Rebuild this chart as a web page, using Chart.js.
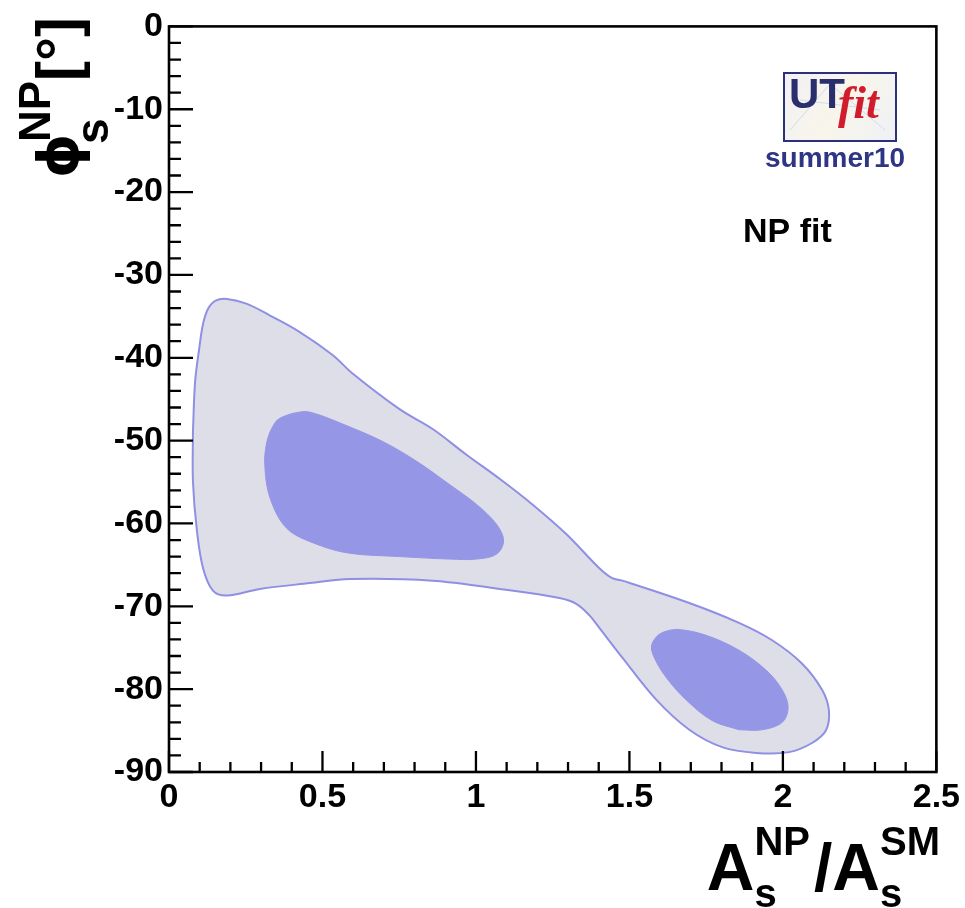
<!DOCTYPE html>
<html>
<head>
<meta charset="utf-8">
<style>
  html, body { margin: 0; padding: 0; background: #fff; }
  canvas { display: block; }
</style>
<script src="https://cdn.jsdelivr.net/npm/chart.js"></script>
</head>
<body>
<canvas id="c" width="965" height="908" style="width:965px;height:908px"></canvas>
<script>
// axis tick labels
const xTickLabels = ['0', '0.5', '1', '1.5', '2', '2.5'];
const yTickLabels = ['-90', '-80', '-70', '-60', '-50', '-40', '-30', '-20', '-10', '0'];

// outer (95%) contour, A_s ratio vs phi_s in degrees (starts on the straight left edge)
const outerX = [0.078, 0.085, 0.098, 0.111, 0.127, 0.152, 0.189, 0.254, 0.329, 0.426, 0.534, 0.598,
                0.751, 0.859, 0.969, 1.077, 1.184, 1.295, 1.402, 1.444, 1.477, 1.695, 1.857, 1.965,
                2.062, 2.128, 2.150, 2.140, 2.095, 2.020, 1.913, 1.802, 1.695, 1.588, 1.477, 1.402,
                1.370, 1.327, 1.272, 1.077, 0.859, 0.589, 0.459, 0.296, 0.189, 0.143, 0.111, 0.091,
                0.078];
const outerY = [-48.9, -42.9, -39.0, -35.9, -34.1, -33.1, -32.9, -33.5, -34.9, -36.9, -39.7, -41.9,
                -46.2, -48.6, -51.7, -54.6, -57.7, -61.3, -65.4, -66.6, -66.9, -69.6, -72.0, -74.1,
                -76.9, -80.1, -82.6, -85.0, -86.5, -87.6, -87.7, -87.0, -84.9, -81.3, -76.2, -72.6,
                -71.1, -69.7, -69.0, -67.9, -66.9, -66.7, -67.2, -67.9, -68.7, -68.1, -65.4, -60.9,
                -54.9];

// inner (68%) contours
const innerAX = [0.751, 0.589, 0.481, 0.384, 0.329, 0.312, 0.318, 0.335, 0.361, 0.436, 0.481, 0.566,
                 0.696, 0.807, 0.914, 1.002, 1.067, 1.090, 1.067, 1.002, 0.914];
const innerAY = [-64.0, -63.6, -62.5, -60.6, -56.9, -52.9, -50.3, -48.5, -47.3, -46.5, -46.8, -48.0,
                 -50.1, -52.5, -55.3, -57.7, -60.1, -62.1, -63.7, -64.3, -64.3];

const innerBX = [1.857, 1.770, 1.685, 1.620, 1.581, 1.572, 1.590, 1.620, 1.662, 1.750, 1.857, 1.945,
                 1.998, 2.017, 1.998, 1.932];
const innerBY = [-84.9, -83.8, -81.3, -78.6, -76.2, -74.8, -73.6, -73.0, -72.8, -73.5, -75.3, -77.7,
                 -80.1, -82.2, -84.0, -84.9];

function loop(xs, ys) {
    const pts = xs.map((x, i) => ({ x: x, y: ys[i] }));
    pts.push({ x: xs[0], y: ys[0] });
    return pts;
}

const FONT = '"Liberation Sans", Arial, Helvetica, sans-serif';

// frame, inward ticks, titles, logo
const decor = {
    id: 'decor',
    afterDraw(chart) {
        const ctx = chart.ctx;
        const a = chart.chartArea;
        const xs = chart.scales.x, ys = chart.scales.y;
        ctx.save();
        ctx.strokeStyle = '#000';
        ctx.lineWidth = 2.3;
        ctx.beginPath();
        for (let i = 0; i <= 25; i++) {
            const px = xs.getPixelForValue(i / 10);
            const len = i % 5 === 0 ? 21 : 10;
            ctx.moveTo(px, a.bottom);
            ctx.lineTo(px, a.bottom - len);
        }
        for (let v = -90; v <= 0; v += 2) {
            const py = ys.getPixelForValue(v);
            const len = v % 10 === 0 ? 24 : 12;
            ctx.moveTo(a.left, py);
            ctx.lineTo(a.left + len, py);
        }
        ctx.stroke();
        ctx.lineWidth = 2.6;
        ctx.strokeRect(a.left, a.top, a.right - a.left, a.bottom - a.top);

        // x title: A_s^NP / A_s^SM, right aligned
        ctx.fillStyle = '#000';
        ctx.textBaseline = 'alphabetic';
        ctx.textAlign = 'left';
        const big = 'bold 66px ' + FONT, small = 'bold 40px ' + FONT;
        ctx.font = big;
        const wA = ctx.measureText('A').width, wSl = ctx.measureText('/').width;
        ctx.font = small;
        const wNP = ctx.measureText('NP').width, wSM = ctx.measureText('SM').width;
        const ws = ctx.measureText('s').width;
        let x = 940 - (wA + Math.max(wNP, ws) + 4 + wSl + wA + Math.max(wSM, ws));
        ctx.font = big; ctx.fillText('A', x, 890); x += wA;
        ctx.font = small; ctx.fillText('NP', x, 855); ctx.fillText('s', x, 907);
        x += Math.max(wNP, ws) + 4;
        ctx.font = big; ctx.fillText('/', x, 890); x += wSl;
        ctx.fillText('A', x, 890); x += wA;
        ctx.font = small; ctx.fillText('SM', x, 855); ctx.fillText('s', x, 907);

        // y title: phi_s^NP [deg], rotated
        ctx.translate(78, 178);
        ctx.rotate(-Math.PI / 2);
        ctx.font = 'bold 56px "DejaVu Sans", sans-serif';
        ctx.fillText('\u03d5', 0, 0);
        ctx.font = 'bold 44px ' + FONT;
        ctx.fillText('NP', 36, -28);
        ctx.font = 'bold 46px ' + FONT;
        ctx.fillText('s', 34, 30);
        ctx.font = 'bold 60px ' + FONT;
        ctx.fillText('[\u00b0]', 97, 0);
        ctx.restore();

        // NP fit label
        ctx.save();
        ctx.fillStyle = '#000';
        ctx.font = 'bold 34px ' + FONT;
        ctx.fillText('NP fit', 743, 242);

        // UTfit logo
        const g = ctx.createLinearGradient(783, 72, 897, 142);
        g.addColorStop(0, '#f2f0f4');
        g.addColorStop(0.5, '#f8f6ea');
        g.addColorStop(1, '#eef0f6');
        ctx.fillStyle = g;
        ctx.fillRect(784, 73, 112, 68);
        ctx.strokeStyle = '#d4daf0';
        ctx.lineWidth = 1;
        ctx.beginPath();
        ctx.moveTo(790, 130); ctx.lineTo(830, 84); ctx.lineTo(885, 130);
        ctx.moveTo(800, 100); ctx.lineTo(880, 110);
        ctx.stroke();
        ctx.strokeStyle = '#2b2f7e';
        ctx.lineWidth = 2;
        ctx.strokeRect(784, 73, 112, 68);
        ctx.fillStyle = '#2b2e6c';
        ctx.font = 'bold 42px ' + FONT;
        ctx.fillText('UT', 789, 108);
        ctx.fillStyle = '#d01c2c';
        ctx.font = 'italic bold 46px "Liberation Serif", "Times New Roman", serif';
        ctx.fillText('fit', 838, 118);
        ctx.fillStyle = '#2e3584';
        ctx.font = 'bold 28px ' + FONT;
        ctx.fillText('summer10', 765, 167);
        ctx.restore();
    }
};

const contourStyle = { showLine: true, fill: 'shape', tension: 0.35, pointRadius: 0 };

new Chart(document.getElementById('c'), {
    type: 'scatter',
    data: {
        datasets: [
            Object.assign({
                data: loop(innerAX, innerAY),
                backgroundColor: '#9696e6', borderColor: '#9696e6', borderWidth: 1
            }, contourStyle),
            Object.assign({
                data: loop(innerBX, innerBY),
                backgroundColor: '#9696e6', borderColor: '#9696e6', borderWidth: 1
            }, contourStyle),
            Object.assign({
                data: loop(outerX, outerY),
                backgroundColor: '#dedee8', borderColor: '#8f8fe4', borderWidth: 2
            }, contourStyle)
        ]
    },
    options: {
        responsive: false,
        animation: false,
        devicePixelRatio: 1,
        layout: { padding: { left: 0, top: 22.7, right: 27.5, bottom: 0 } },
        plugins: { legend: { display: false }, tooltip: { enabled: false } },
        scales: {
            x: {
                type: 'linear', min: 0, max: 2.5,
                grid: { display: false, drawTicks: false },
                border: { display: false },
                afterFit: s => { s.height = 136; },
                ticks: {
                    stepSize: 0.5, autoSkip: false, maxRotation: 0, padding: 5,
                    color: '#000', font: { family: FONT, size: 34, weight: 'bold' },
                    callback: (v, i) => xTickLabels[i]
                }
            },
            y: {
                type: 'linear', min: -90, max: 0,
                grid: { display: false, drawTicks: false },
                border: { display: false },
                afterFit: s => { s.width = 169; },
                ticks: {
                    stepSize: 10, autoSkip: false, padding: 6,
                    color: '#000', font: { family: FONT, size: 34, weight: 'bold' },
                    callback: (v, i) => yTickLabels[i]
                }
            }
        }
    },
    plugins: [decor]
});
</script>
</body>
</html>
